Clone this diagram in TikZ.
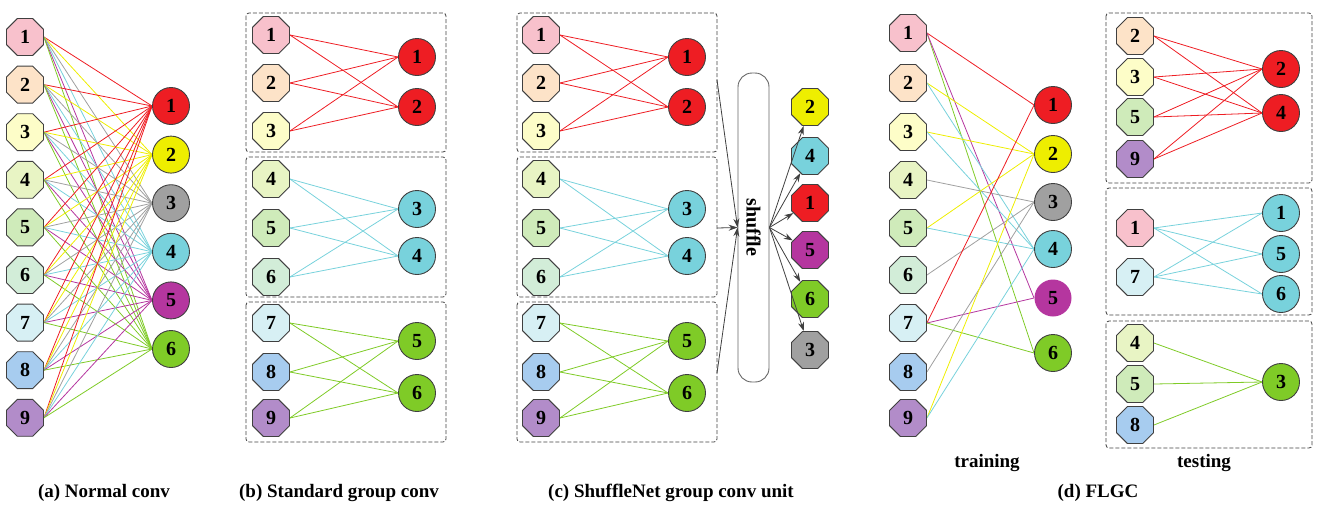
\documentclass[tikz,border=0pt]{standalone}
\usepackage{fontspec}
\setmainfont{Liberation Serif}
\usetikzlibrary{shapes.geometric,backgrounds,arrows.meta}
\definecolor{f1}{HTML}{F8C1CC}
\definecolor{f2}{HTML}{FDE3C8}
\definecolor{f3}{HTML}{FDFDC8}
\definecolor{f4}{HTML}{E8F4C4}
\definecolor{f5}{HTML}{CFEBBA}
\definecolor{f6}{HTML}{D2EDD8}
\definecolor{f7}{HTML}{D7F0F4}
\definecolor{f8}{HTML}{A7CCEF}
\definecolor{f9}{HTML}{B28CC9}
\definecolor{cR}{HTML}{EE1D23}
\definecolor{cY}{HTML}{EEEE00}
\definecolor{cG}{HTML}{A0A0A0}
\definecolor{cC}{HTML}{78D2DC}
\definecolor{cM}{HTML}{B5369F}
\definecolor{cN}{HTML}{7FCB27}
\definecolor{bd}{HTML}{404040}
\tikzset{
  oct/.style={regular polygon, regular polygon sides=8,
    minimum size=40pt, inner sep=0pt,
    draw=bd, line width=0.9pt, font=\bfseries\fontsize{20}{20}\selectfont},
  circ/.style={circle, minimum size=37pt, inner sep=0pt, draw=bd, line width=0.9pt,
    font=\bfseries\fontsize{20}{20}\selectfont},
  grp/.style={draw=bd, dashed, dash pattern=on 4pt off 2pt, rounded corners=3pt, line width=0.8pt},
  ln/.style={line width=0.8pt},
  arr/.style={draw=bd, line width=0.8pt, -{Stealth[length=9pt,width=6pt]}},
  captxt/.style={font=\bfseries\fontsize{19}{20}\selectfont},
}
\begin{document}
\begin{tikzpicture}[x=1pt,y=-1pt]
\useasboundingbox (0,0) rectangle (1319,512);
% ---------- (a) ----------
\foreach \i/\y in {1/37,2/84.6,3/132.2,4/179.8,5/227.4,6/275,7/322.6,8/370.2,9/417.8}
  \node[oct, fill=f\i] (a\i) at (25,\y) {\i};
\foreach \j/\y/\c in {1/106/cR,2/154.6/cY,3/203.2/cG,4/251.8/cC,5/300.4/cM,6/349/cN}
  \node[circ, fill=\c] (ao\j) at (171,\y) {\j};
\begin{scope}[on background layer]
\foreach \i in {1,...,9}
  \foreach \j/\c in {1/cR,2/cY,3/cG,4/cC,5/cM,6/cN}
    \draw[ln, \c] (a\i.east) -- (ao\j.west);
\end{scope}
% ---------- (b) and (c) ----------
\foreach \p/\xi/\xo/\bl/\br in {b/271/417/246/446, c/541/687/517/717}{
  \draw[grp] (\bl,13) rectangle (\br,152);
  \draw[grp] (\bl,157) rectangle (\br,297);
  \draw[grp] (\bl,302) rectangle (\br,442);
  \foreach \i/\y in {1/35,2/83,3/131,4/179,5/228,6/277,7/323,8/372,9/418}
    \node[oct, fill=f\i] (\p\i) at (\xi,\y) {\i};
  \node[circ, fill=cR] (\p o1) at (\xo,57) {1};
  \node[circ, fill=cR] (\p o2) at (\xo,107) {2};
  \node[circ, fill=cC] (\p o3) at (\xo,209) {3};
  \node[circ, fill=cC] (\p o4) at (\xo,256) {4};
  \node[circ, fill=cN] (\p o5) at (\xo,341) {5};
  \node[circ, fill=cN] (\p o6) at (\xo,393) {6};
  \begin{scope}[on background layer]
  \foreach \i in {1,2,3} \foreach \j in {1,2} \draw[ln, cR] (\p\i.east) -- (\p o\j.west);
  \foreach \i in {4,5,6} \foreach \j in {3,4} \draw[ln, cC] (\p\i.east) -- (\p o\j.west);
  \foreach \i in {7,8,9} \foreach \j in {5,6} \draw[ln, cN] (\p\i.east) -- (\p o\j.west);
  \end{scope}
}
% shuffle
\node[draw=bd!80, line width=0.9pt, rounded corners=14pt, minimum width=31pt, minimum height=309pt,
  inner sep=0pt] (shuf) at (753.5,227.5) {};
\node[rotate=-90, font=\bfseries\fontsize{20}{20}\selectfont] (shuft) at (753.5,227.5) {shuffle};
\coordinate (cr1) at (717,80);
\coordinate (cr2) at (717,228);
\coordinate (cr3) at (717,373);
\draw[arr] (cr1) -- (shuf.west);
\draw[arr] (cr2) -- (shuf.west);
\draw[arr] (cr3) -- (shuf.west);
\foreach \k/\y/\c in {2/107/cY,4/156/cC,1/203/cR,5/250/cM,6/299/cN,3/350/cG}
  \node[oct, fill=\c] (s\k) at (810,\y) {\k};
\foreach \k in {2,4,1,5,6,3}
  \draw[arr] (shuf.east) -- (s\k);
% ---------- (d) training ----------
\foreach \i/\y in {1/33,2/83,3/132,4/180,5/228,6/275,7/323,8/372,9/418}
  \node[oct, fill=f\i] (d\i) at (908,\y) {\i};
\foreach \j/\y/\c in {1/105/cR,2/154/cY,3/202/cG,4/249/cC,6/353/cN}
  \node[circ, fill=\c] (do\j) at (1053,\y) {\j};
\node[circ, fill=cM, draw=none] (do5) at (1053,298) {5};
\begin{scope}[on background layer]
\foreach \i/\j/\c in {1/1/cR,1/6/cN,1/5/cM,2/2/cY,2/4/cC,3/2/cY,3/4/cC,4/3/cG,5/2/cY,5/4/cC,
  6/3/cG,7/1/cR,7/5/cM,7/6/cN,8/3/cG,9/2/cY,9/4/cC}
  \draw[ln, \c] (d\i.east) -- (do\j.west);
\end{scope}
% ---------- (d) testing ----------
\draw[grp] (1106,13) rectangle (1312,183);
\draw[grp] (1106,188) rectangle (1312,315);
\draw[grp] (1106,321) rectangle (1312,448);
\node[oct, fill=f2] (t2) at (1135,36) {2};
\node[oct, fill=f3] (t3) at (1135,77) {3};
\node[oct, fill=f5] (t5) at (1135,117) {5};
\node[oct, fill=f9] (t9) at (1135,159) {9};
\node[circ, fill=cR] (to2) at (1281,69) {2};
\node[circ, fill=cR] (to4) at (1281,113) {4};
\node[oct, fill=f1] (u1) at (1135,228) {1};
\node[oct, fill=f7] (u7) at (1135,277) {7};
\node[circ, fill=cC] (uo1) at (1281,213) {1};
\node[circ, fill=cC] (uo5) at (1281,254) {5};
\node[circ, fill=cC] (uo6) at (1281,294) {6};
\node[oct, fill=f4] (v4) at (1135,343) {4};
\node[oct, fill=f5] (v5) at (1135,384) {5};
\node[oct, fill=f8] (v8) at (1135,425) {8};
\node[circ, fill=cN] (vo3) at (1281,382) {3};
\begin{scope}[on background layer]
\foreach \i in {2,3,5,9} \foreach \j in {2,4} \draw[ln, cR] (t\i.east) -- (to\j.west);
\foreach \i in {1,7} \foreach \j in {1,5,6} \draw[ln, cC] (u\i.east) -- (uo\j.west);
\foreach \i in {4,5,8} \draw[ln, cN] (v\i.east) -- (vo3.west);
\end{scope}
% ---------- labels ----------
\node[captxt] (ltrain) at (987,463) {training};
\node[captxt] (ltest) at (1204,463) {testing};
\node[captxt] (capa) at (104,493) {(a) Normal conv};
\node[captxt] (capb) at (339,493) {(b) Standard group conv};
\node[captxt] (capc) at (671,493) {(c) ShuffleNet group conv unit};
\node[captxt] (capd) at (1098,493) {(d) FLGC};
\end{tikzpicture}
\end{document}
